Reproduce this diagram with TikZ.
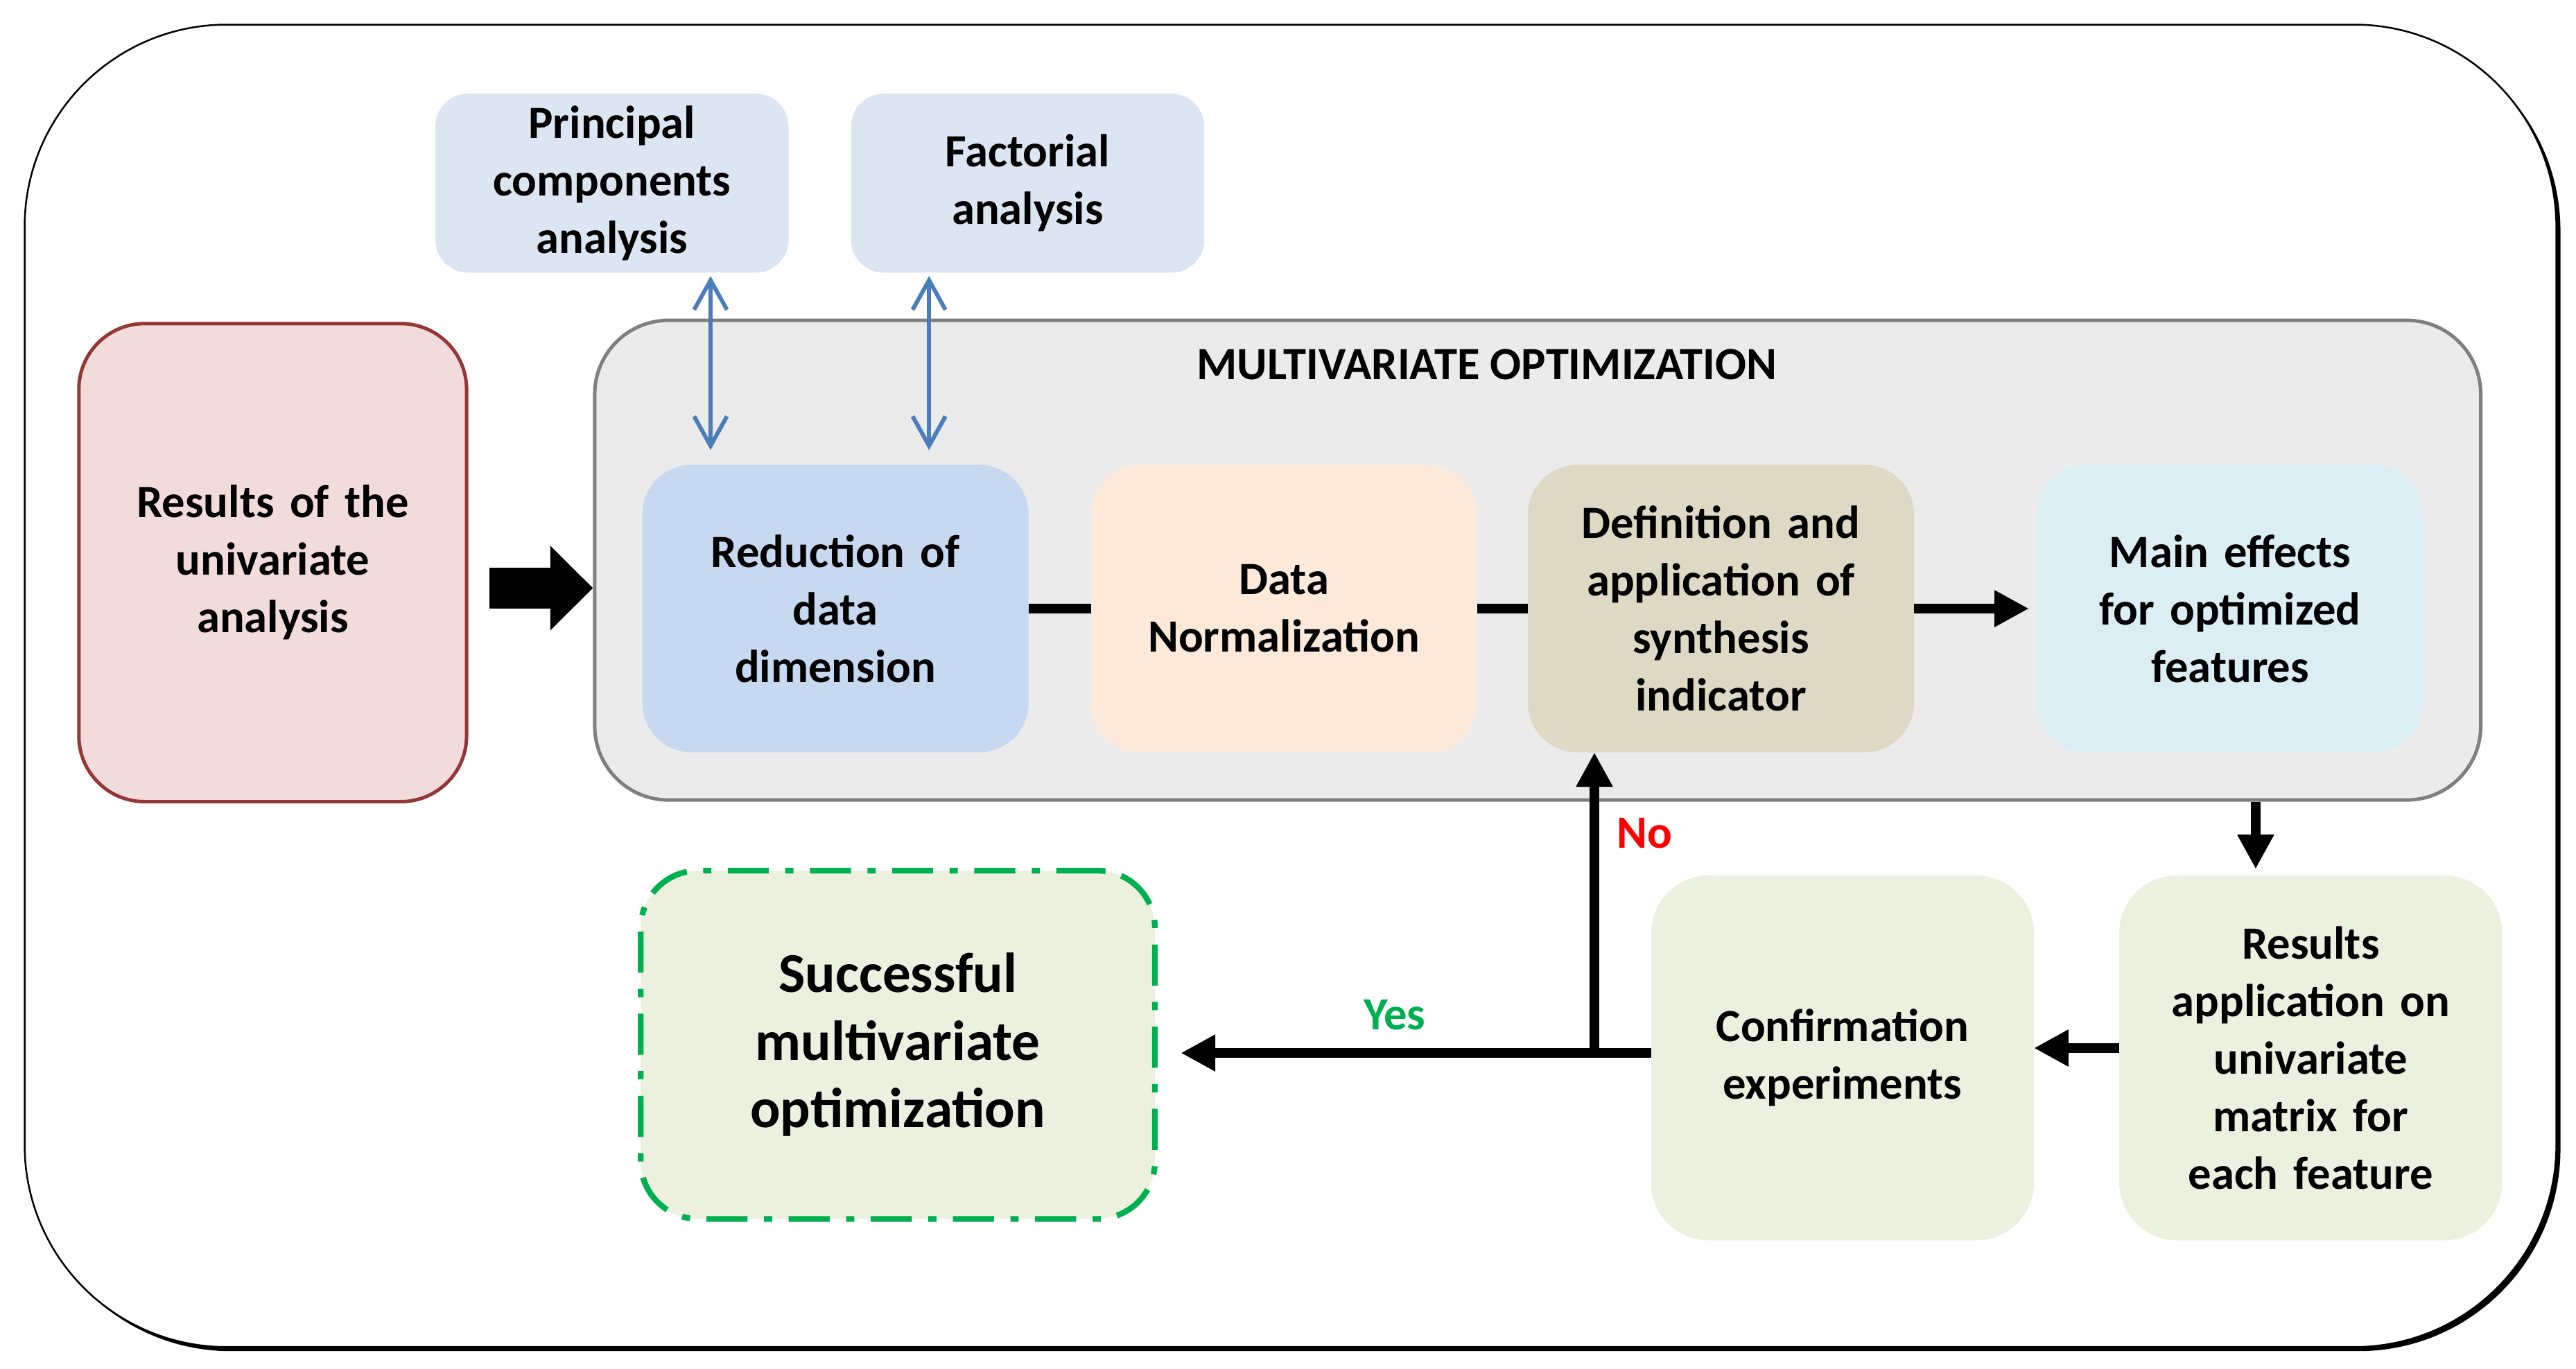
\documentclass[tikz,border=0pt]{standalone}
\usepackage{fontspec}
\setmainfont{Carlito}
\usetikzlibrary{positioning, arrows.meta, shadows}

\definecolor{pinkfill}{HTML}{F2DCDB}
\definecolor{pinkline}{HTML}{953735}
\definecolor{grayfill}{HTML}{EBEBEB}
\definecolor{grayline}{HTML}{7F7F7F}
\definecolor{reducefill}{HTML}{C6D9F1}
\definecolor{normfill}{HTML}{FDE9D9}
\definecolor{synthfill}{HTML}{DDD9C4}
\definecolor{effectsfill}{HTML}{DBEEF4}
\definecolor{topfill}{HTML}{DCE6F2}
\definecolor{lowfill}{HTML}{EBF1DE}
\definecolor{okgreen}{HTML}{00B050}
\definecolor{nored}{HTML}{FF0000}
\definecolor{arrowblue}{HTML}{4A7EBB}

\begin{document}
\begin{tikzpicture}[
    font=\bfseries\fontsize{16}{19.9}\selectfont,
    stepbox/.style={outer sep=0pt, rounded corners=0.6cm, minimum width=4.7cm, minimum height=3.5cm, text width=4.2cm, align=center},
    topbox/.style={outer sep=0pt, fill=topfill, rounded corners=0.4cm, minimum width=4.3cm, minimum height=2.18cm, text width=3.8cm, align=center},
    lowbox/.style={outer sep=0pt, fill=lowfill, rounded corners=0.7cm, minimum width=4.66cm, minimum height=4.44cm, text width=4.16cm, align=center},
    link/.style={line width=0.12cm},
    flow/.style={line width=0.12cm, -{Triangle[length=0.42cm, width=0.42cm]}},
    twoway/.style={draw=arrowblue, line width=0.05cm, {Straight Barb[length=0.36cm, width=0.4cm]}-{Straight Barb[length=0.36cm, width=0.4cm]}},
    bigarrow/.style={line width=0.5cm, -{Triangle[length=0.52cm, width=1cm]}}
  ]
  \useasboundingbox (0,0) rectangle (31.36,16.66);

  % outer frame with its shadow
  \node (frame) [draw, fill=white, line width=0.6pt, rounded corners=2.46cm, minimum width=30.82cm, minimum height=16.1cm,
    drop shadow={shadow xshift=0.05cm, shadow yshift=-0.05cm, opacity=1, fill=black}] at (15.71, 8.31) {};

  % input box and the optimization block
  \node (results) [draw=pinkline, fill=pinkfill, line width=1.2pt, rounded corners=0.8cm, minimum width=4.72cm, minimum height=5.82cm, text width=4.2cm, align=center] at (3.32, 9.81) {Results of the\\univariate\\analysis};
  \node (multi) [draw=grayline, fill=grayfill, line width=1.2pt, rounded corners=0.9cm, minimum width=22.96cm, minimum height=5.84cm] at (18.72, 9.84) {};
  \node (title) at ([xshift=-0.62cm, yshift=-0.56cm]multi.north) {MULTIVARIATE OPTIMIZATION};

  % steps inside the block
  \node (reduce) [stepbox, fill=reducefill] at (10.17, 9.25) {Reduction of\\data\\dimension};
  \node (norm) [stepbox, fill=normfill, right=0.76cm of reduce] {Data\\Normalization};
  \node (synth) [stepbox, fill=synthfill, right=0.62cm of norm] {Definition and\\application of\\synthesis\\indicator};
  \node (effects) [stepbox, fill=effectsfill, right=1.5cm of synth] {Main effects\\for optimized\\features};

  % methods on top
  \node (pca) [topbox] at (7.45, 14.43) {Principal\\components\\analysis};
  \node (fa) [topbox, right=0.76cm of pca] {Factorial\\analysis};

  % lower row
  \node (apply) [lowbox] at (28.13, 3.78) {Results\\application on\\univariate\\matrix for\\each feature};
  \node (confirm) [lowbox, left=1.04cm of apply] {Confirmation\\experiments};
  \node (success) [fill=lowfill, draw=okgreen, line width=2pt, dash pattern=on 0.5cm off 0.2cm on 0.1cm off 0.2cm, rounded corners=0.7cm, minimum width=6.26cm, minimum height=4.24cm, text width=5.6cm, align=center, font=\bfseries\fontsize{19.5}{23.4}\selectfont] at (10.93, 3.94) {Successful\\multivariate\\optimization};

  % connectors
  \draw [bigarrow, shorten <=0.26cm] ([yshift=-0.31cm]results.east) -- ([yshift=-0.31cm]results.east -| multi.west);
  \draw [link] (reduce) -- (norm);
  \draw [link] (norm) -- (synth);
  \draw [flow, shorten >=0.1cm] (synth) -- (effects);
  \draw [twoway, shorten <=0.04cm, shorten >=0.18cm] ([xshift=1.2cm]pca.south) -- ([xshift=1.2cm]pca.south |- reduce.north);
  \draw [twoway, shorten <=0.04cm, shorten >=0.18cm] ([xshift=-1.2cm]fa.south) -- ([xshift=-1.2cm]fa.south |- reduce.north);
  \draw [flow, shorten >=0.08cm] ([xshift=-0.67cm]apply.north |- multi.south) -- ([xshift=-0.67cm]apply.north);
  \draw [flow] ([yshift=0.12cm]apply.west) -- ([yshift=0.12cm]apply.west -| confirm.east);

  % decision loop
  \coordinate (split) at ([xshift=-1.54cm, yshift=0.06cm]synth.south |- confirm.west);
  \draw [flow, shorten >=0.28cm] (confirm.west |- split) -- node (yes) [pos=0.52, above=0.1cm, text=okgreen] {Yes} (split -| success.east);
  \draw [flow] (split) -- node (no) [pos=0.73, right=0.1cm, text=nored] {No} (split |- synth.south);

\end{tikzpicture}
\end{document}
